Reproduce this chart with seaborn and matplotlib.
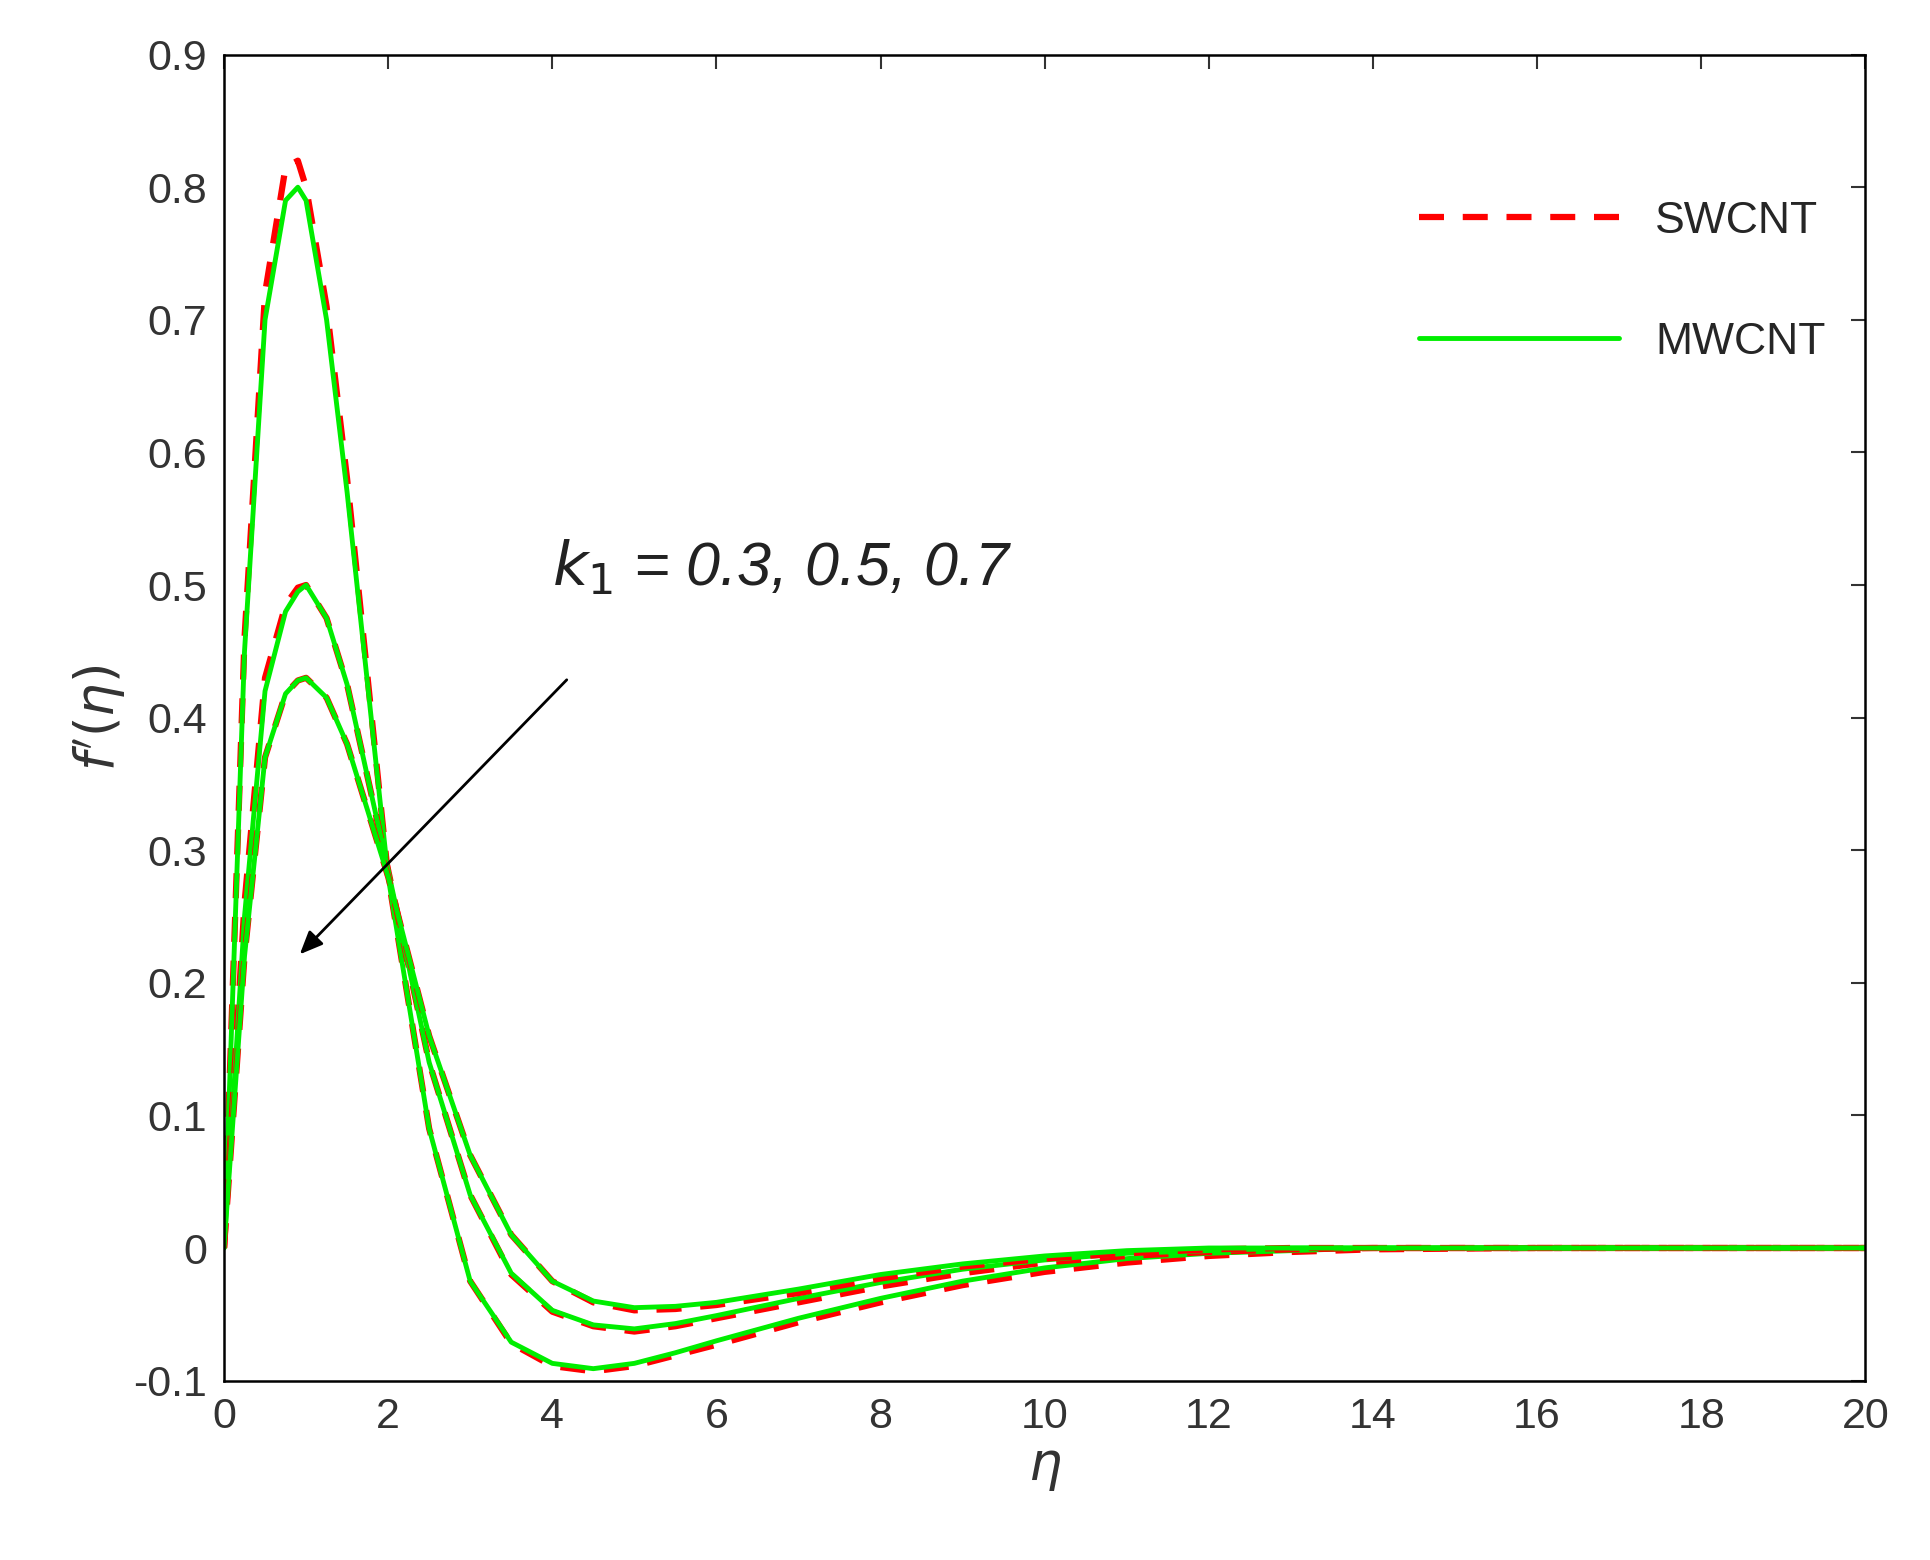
import matplotlib
matplotlib.use("Agg")
import matplotlib.pyplot as plt
import seaborn as sns
import pandas as pd

eta = [0,0.25,0.5,0.75,0.9,1,1.25,1.5,2,2.5,3,3.5,4,4.5,5,5.5,6,7,8,9,10,11,12,13,14,16,18,20]
sw_1 = [0,0.46,0.72,0.815,0.82,0.80,0.71,0.58,0.28,0.09,-0.025,-0.072,-0.089,-0.093,-0.089,-0.081,-0.073,-0.056,-0.041,-0.028,-0.018,-0.011,-0.006,-0.003,-0.001,0,0,0]
mw_1 = [0,0.45,0.70,0.79,0.80,0.79,0.70,0.57,0.28,0.09,-0.025,-0.071,-0.087,-0.091,-0.087,-0.079,-0.07,-0.053,-0.038,-0.025,-0.015,-0.008,-0.004,-0.002,0,0,0,0]
sw_2 = [0,0.26,0.43,0.485,0.498,0.50,0.475,0.425,0.285,0.14,0.04,-0.02,-0.048,-0.059,-0.063,-0.059,-0.053,-0.041,-0.029,-0.019,-0.011,-0.006,-0.003,-0.001,0,0,0,0]
mw_2 = [0,0.25,0.42,0.48,0.495,0.50,0.475,0.425,0.285,0.14,0.04,-0.019,-0.047,-0.058,-0.061,-0.057,-0.051,-0.038,-0.026,-0.016,-0.009,-0.004,-0.002,0,0,0,0,0]
sw_3 = [0,0.22,0.37,0.418,0.428,0.43,0.415,0.38,0.28,0.16,0.07,0.01,-0.025,-0.041,-0.047,-0.046,-0.043,-0.034,-0.023,-0.014,-0.008,-0.004,-0.001,0,0,0,0,0]
mw_3 = [0,0.22,0.37,0.418,0.428,0.43,0.415,0.38,0.28,0.16,0.07,0.01,-0.025,-0.04,-0.045,-0.044,-0.041,-0.031,-0.02,-0.012,-0.006,-0.002,0,0,0,0,0,0]

sns.set_style("white")
plt.rcParams['font.family'] = ['Liberation Sans', 'DejaVu Sans']
fig = plt.figure(figsize=(19.31, 15.6), dpi=100)
ax = fig.add_axes([0.116, 0.115, 0.85, 0.85])

for i, (s, m) in enumerate([(sw_1, mw_1), (sw_2, mw_2), (sw_3, mw_3)]):
    df = pd.DataFrame({"eta": eta, "s": s, "m": m})
    sns.lineplot(data=df, x="eta", y="s", ax=ax, color="red", lw=4.5, linestyle=(0, (4, 3)),
                 label="SWCNT" if i == 0 else None)
    sns.lineplot(data=df, x="eta", y="m", ax=ax, color="#00ee00", lw=3.5,
                 label="MWCNT" if i == 0 else None)

ax.set_xlim(0, 20)
ax.set_ylim(-0.1, 0.9)
ax.set_xticks(range(0, 21, 2))
ax.set_yticks([-0.1,0,0.1,0.2,0.3,0.4,0.5,0.6,0.7,0.8,0.9])
ax.set_yticklabels(["-0.1","0","0.1","0.2","0.3","0.4","0.5","0.6","0.7","0.8","0.9"])
ax.tick_params(axis='both', labelsize=31, colors='#333333', direction='in', length=10, width=1.5,
               top=True, right=True, pad=12)
for sp in ax.spines.values():
    sp.set_linewidth(1.8); sp.set_color('black')
ax.set_xlabel(r"$\eta$", fontsize=38, color='#333333')
ax.set_ylabel(r"$f'(\eta)$", fontsize=38, color='#333333')
ax.legend(loc='upper right', bbox_to_anchor=(1.0, 0.92), frameon=False, fontsize=32,
          handlelength=4.5, labelspacing=1.8)
ax.annotate("", xy=(0.9, 0.22), xytext=(4.2, 0.43),
            arrowprops=dict(arrowstyle="-|>,head_length=1.4,head_width=0.6", color='black', lw=2))
ax.text(4.0, 0.5, r"$k_1$ = 0.3, 0.5, 0.7", fontsize=44, style='italic', color='#222222')

fig.savefig("out.png", dpi=100)
